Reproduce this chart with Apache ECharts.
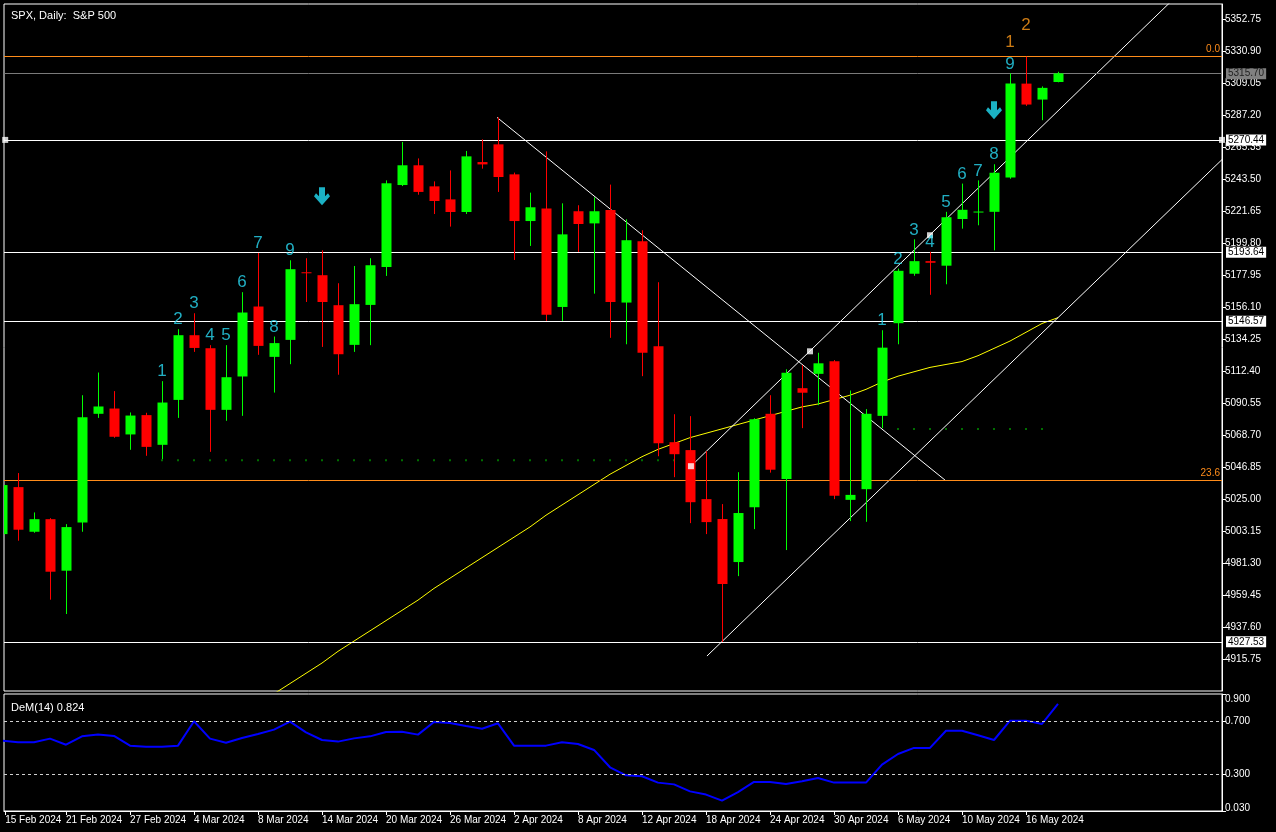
<!DOCTYPE html>
<html><head><meta charset="utf-8">
<script src="https://cdn.jsdelivr.net/npm/echarts@6/dist/echarts.min.js"></script>
<style>html,body{margin:0;padding:0;background:#000}#c{width:1276px;height:832px}</style>
</head><body><div id="c"></div>
<script>
const dates=['15 Feb 2024','16 Feb 2024','19 Feb 2024','20 Feb 2024','21 Feb 2024','22 Feb 2024','23 Feb 2024','26 Feb 2024','27 Feb 2024','28 Feb 2024','29 Feb 2024',
'1 Mar 2024','4 Mar 2024','5 Mar 2024','6 Mar 2024','7 Mar 2024','8 Mar 2024','11 Mar 2024','12 Mar 2024','13 Mar 2024','14 Mar 2024','15 Mar 2024','18 Mar 2024','19 Mar 2024','20 Mar 2024','21 Mar 2024','22 Mar 2024','25 Mar 2024','26 Mar 2024','27 Mar 2024','28 Mar 2024',
'1 Apr 2024','2 Apr 2024','3 Apr 2024','4 Apr 2024','5 Apr 2024','8 Apr 2024','9 Apr 2024','10 Apr 2024','11 Apr 2024','12 Apr 2024','15 Apr 2024','16 Apr 2024','17 Apr 2024','18 Apr 2024','19 Apr 2024','22 Apr 2024','23 Apr 2024','24 Apr 2024','25 Apr 2024','26 Apr 2024','29 Apr 2024','30 Apr 2024',
'1 May 2024','2 May 2024','3 May 2024','6 May 2024','7 May 2024','8 May 2024','9 May 2024','10 May 2024','13 May 2024','14 May 2024','15 May 2024','16 May 2024','17 May 2024','20 May 2024'];
const opens=[5001.1,5033.2,5002.7,5011.3,4976.1,5009.1,5083.3,5086.9,5069.2,5082.4,5062.1,5092.8,5137.0,5128.1,5086.0,5108.8,5156.6,5122.2,5133.8,5180.0,5178.0,5157.5,5130.4,5157.7,5183.6,5239.6,5253.1,5238.7,5229.8,5221.2,5255.3,5267.4,5246.9,5215.0,5223.5,5156.3,5221.7,5213.4,5222.6,5159.3,5201.2,5129.5,5063.9,5058.5,5025.0,5011.4,4982.0,5019.5,5083.3,5038.7,5100.8,5110.6,5119.2,5024.5,5031.8,5081.9,5145.2,5179.0,5187.6,5184.5,5216.4,5220.9,5221.3,5244.8,5308.9,5298.0,5310.0];
const highs=[5036,5042.8,5015.9,5012,5007.9,5096.0,5111.5,5098.8,5084.2,5084,5105.6,5141.1,5152.0,5130.2,5130.2,5166.4,5193.2,5136.1,5188.2,5189.6,5195.0,5172.5,5184.3,5189.6,5242.8,5269.0,5257.8,5242.1,5249.6,5262.9,5270.8,5285.8,5248.1,5234.4,5262.6,5227.1,5225.8,5231.2,5239.9,5216.2,5208.7,5173.2,5083.0,5081.7,5057.8,5021.6,5043.4,5080.3,5096.0,5113.7,5116.5,5125.0,5120.0,5099.2,5086.5,5140.4,5182.5,5202.5,5194.0,5221.3,5240.6,5242.8,5253.8,5315.9,5327.3,5307.0,5317.0];
const lows=[4998,4996.6,5002,4956.3,4946.5,5002.7,5080.5,5066.9,5058.7,5054.6,5052.3,5080.5,5125.6,5057.3,5078.5,5081.9,5123.6,5097.8,5117.2,5159.7,5129.0,5110.0,5125.6,5130.2,5177.5,5238.9,5233.0,5219.8,5211.2,5219.8,5250.8,5234.9,5188.4,5198.0,5146.8,5146.8,5193.9,5165.4,5135.2,5130.8,5109.0,5054.3,5040.0,5008.6,5001.1,4927.4,4972.4,5004.5,5043.1,4990.2,5073.5,5089.2,5025.0,5010.0,5009.5,5073.5,5130.8,5177.6,5164.6,5171.8,5209.8,5212.1,5195.0,5243.9,5293.7,5283.9,5309.8];
const closes=[5034.6,5004.1,5011.3,4975.4,5005.9,5081.0,5088.3,5067.6,5082.1,5060.7,5091.0,5137.0,5128.3,5086.0,5108.3,5152.5,5129.7,5131.6,5182.1,5179.5,5159.7,5124.0,5158.2,5184.8,5240.8,5253.1,5234.9,5228.7,5221.2,5259.2,5253.7,5245.1,5215.0,5224.4,5150.9,5205.9,5213.0,5221.7,5159.7,5201.9,5125.0,5063.2,5055.7,5022.9,5009.3,4967.0,5015.5,5079.6,5045.1,5111.4,5097.7,5117.8,5027.3,5027.9,5083.3,5128.5,5181.0,5187.6,5186.5,5217.6,5222.7,5221.5,5248.0,5308.9,5294.6,5306.0,5315.9];
const ma=[null,null,null,null,null,null,null,null,null,null,null,null,null,null,null,null,
4885,4892,4899,4906,4913,4921,4928,4935,4942,4949,4956,4964,4971,4978,4985,4992,4999,5006,5014,5021,5028,5035,5042,5048,5054,5059,5063,5067,5070,5073,5076,5079,5082,5085,5088,5090,5093,5096,5100,5105,5109,5112,5115,5117,5119,5123,5128,5133,5139,5145,5149];
const dem=[0.553,0.541,0.541,0.568,0.523,0.585,0.598,0.588,0.516,0.508,0.508,0.516,0.697,0.568,0.538,0.573,0.603,0.635,0.694,0.615,0.558,0.546,0.570,0.585,0.618,0.620,0.598,0.692,0.684,0.662,0.642,0.682,0.516,0.516,0.516,0.541,0.528,0.484,0.355,0.295,0.288,0.241,0.228,0.176,0.152,0.107,0.171,0.246,0.246,0.231,0.251,0.276,0.241,0.241,0.241,0.375,0.454,0.499,0.499,0.627,0.627,0.593,0.558,0.702,0.702,0.677,0.826];
const levels=[5270.44,5193.64,5146.57,4927.53];
const lastPrice=5315.70;
const fibLevels=[[5327.3,'0.0'],[5037.96,'23.6']];
const tdBars=[10,11,12,13,14,15,16,17,18,55,56,57,58,59,60,61,62,63];
const tdText=['1','2','3','4','5','6','7','8','9','1','2','3','4','5','6','7','8','9'];
const orangeBars=[63,64], orangeText=['1','2'];
const arrowBars=[20,62];
const dotRows=[[10,42,5051.6],[56,65,5072.9]];
const trendLines=[[[30.94,5285.8],[58.94,5038.0]],[[43.06,5047.5],[73.06,5365.0]],[[44.06,4917.8],[76.25,5257.0]]];
const anchors=[[43.06,5047.5],[50.5,5126.0],[58,5205.3],[0.2,5270.44],[76.25,5270.44]];
const demLevels=[0.7,0.3];

const FONT='Liberation Sans';
const XMIN=0.125, XMAX=76.25;
const candleData=dates.map((d,i)=>[i,opens[i],closes[i],lows[i],highs[i]]);
const dotData=[];dotRows.forEach(r=>{for(let i=r[0];i<=r[1];i++)dotData.push([i,r[2]]);});
const series=[
 {type:'custom',xAxisIndex:0,yAxisIndex:0,data:candleData,encode:{x:0,y:[1,2,3,4]},clip:true,z:5,
  renderItem:function(p,api){const i=api.value(0),o=api.value(1),c=api.value(2),l=api.value(3),h=api.value(4);
   const po=api.coord([i,o]),pc=api.coord([i,c]),pl=api.coord([i,l]),ph=api.coord([i,h]);
   const col=c>=o?'#00ff00':'#ff0000';const x=Math.round(po[0])+0.5;const w=10;
   const top=Math.min(po[1],pc[1]);const bh=Math.max(Math.abs(po[1]-pc[1]),1);
   return {type:'group',children:[
    {type:'line',shape:{x1:x,y1:ph[1],x2:x,y2:pl[1]},style:{stroke:col,lineWidth:1}},
    {type:'rect',shape:{x:x-w/2,y:top,width:w,height:bh},style:{fill:col}}]};}},
 {type:'line',xAxisIndex:0,yAxisIndex:0,data:ma.map((v,i)=>[i,v]),showSymbol:false,lineStyle:{color:'#ffff00',width:1},z:3,silent:true,
  markLine:{silent:true,symbol:'none',animation:false,data:[
   ...levels.map(v=>({yAxis:v,lineStyle:{color:'#ffffff',width:1,type:'solid'},label:{show:true,position:'end',distance:4,formatter:v.toFixed(2),backgroundColor:'#ffffff',color:'#000',padding:[1,2,0,2],fontSize:10,fontFamily:FONT}})),
   {yAxis:lastPrice,lineStyle:{color:'#7a7a7a',width:1,type:'solid'},label:{show:true,position:'end',distance:4,formatter:lastPrice.toFixed(2),backgroundColor:'#808080',color:'#222',padding:[1,2,0,2],fontSize:10,fontFamily:FONT}},
   ...fibLevels.map(f=>({yAxis:f[0],lineStyle:{color:'#ff8c1a',width:1,type:'solid'},label:{show:true,position:'insideEndTop',distance:[2,2],formatter:f[1],color:'#ff8c1a',fontSize:10,fontFamily:FONT}}))]}},
 ...trendLines.map(t=>({type:'line',xAxisIndex:0,yAxisIndex:0,data:t,showSymbol:false,lineStyle:{color:'#ffffff',width:1},z:4,silent:true})),
 {type:'scatter',xAxisIndex:0,yAxisIndex:0,data:dotData,symbol:'rect',symbolSize:2,itemStyle:{color:'#008a00'},z:2,silent:true},
 {type:'scatter',xAxisIndex:0,yAxisIndex:0,data:anchors,symbol:'rect',symbolSize:6,itemStyle:{color:'#ffffff'},z:6,silent:true},
 {type:'scatter',xAxisIndex:0,yAxisIndex:0,data:tdBars.map((b,k)=>({value:[b,highs[b]],label:{formatter:tdText[k]}})),symbolSize:0,z:7,silent:true,
  label:{show:true,position:'top',distance:1,color:'#29d9f2',fontSize:17,fontFamily:FONT}},
 {type:'scatter',xAxisIndex:0,yAxisIndex:0,data:orangeBars.map((b,k)=>({value:[b,highs[b]],label:{formatter:orangeText[k]}})),symbolSize:0,z:7,silent:true,
  label:{show:true,position:'top',distance:23,color:'#ff9a1a',fontSize:17,fontFamily:FONT}},
 {type:'scatter',xAxisIndex:0,yAxisIndex:0,data:arrowBars.map(b=>[b,highs[b]]),symbol:'path://M5,0 L11,0 L11,9 L14,6 L16,9 L8,18 L0,9 L2,6 L5,9 Z',symbolSize:[16,18],symbolOffset:[0,-54],itemStyle:{color:'#22ddf5'},z:7,silent:true},
 {type:'line',xAxisIndex:1,yAxisIndex:1,data:dem.map((v,i)=>[i,v]),showSymbol:false,lineStyle:{color:'#0000ff',width:2},silent:true,
  markLine:{silent:true,symbol:'none',animation:false,label:{show:false},lineStyle:{color:'#d0d0d0',width:1,type:[3,3]},data:demLevels.map(v=>({yAxis:v}))}}
];
const ticksX=[];for(let i=0;i<dates.length;i+=4)ticksX.push(i);
const option={backgroundColor:'#000',animation:false,
 title:[{text:'SPX, Daily:  S&P 500',left:6,top:5,textStyle:{color:'#fff',fontSize:11,fontWeight:'normal',fontFamily:FONT}},
        {text:'DeM(14) 0.824',left:6,top:697,textStyle:{color:'#fff',fontSize:11,fontWeight:'normal',fontFamily:FONT}}],
 grid:[{left:4,top:4,right:54,height:687,show:true,borderColor:'#fff',borderWidth:1,backgroundColor:'#000'},
       {left:4,top:694,right:54,height:117,show:true,borderColor:'#fff',borderWidth:1,backgroundColor:'#000'}],
 xAxis:[{type:'value',gridIndex:0,min:XMIN,max:XMAX,axisLabel:{show:false},axisTick:{show:false},axisLine:{show:false},splitLine:{show:false}},
        {type:'value',gridIndex:1,min:XMIN,max:XMAX,axisLine:{show:true,lineStyle:{color:'#fff'}},splitLine:{show:false},
         axisTick:{show:true,customValues:ticksX.map(v=>v===0?0.2:v),length:4,lineStyle:{color:'#fff'}},
         axisLabel:{customValues:ticksX.map(v=>v===0?0.2:v),formatter:v=>dates[Math.round(v)]||'',color:'#fff',fontSize:10,fontFamily:FONT,align:'left',margin:4}}],
 yAxis:[{type:'value',gridIndex:0,position:'right',min:4893.9,max:5363.3,interval:21.85,splitLine:{show:false},
         axisLine:{show:true,lineStyle:{color:'#fff'}},axisTick:{show:true,length:4,lineStyle:{color:'#fff'}},
         axisLabel:{color:'#fff',fontSize:10,fontFamily:FONT,margin:3,showMinLabel:false,showMaxLabel:false,formatter:v=>v.toFixed(2)}},
        {type:'value',gridIndex:1,position:'right',min:0.03,max:0.9,splitLine:{show:false},
         axisLine:{show:true,lineStyle:{color:'#fff'}},axisTick:{show:true,length:4,customValues:[0.03,0.3,0.7,0.9],lineStyle:{color:'#fff'}},
         axisLabel:{customValues:[0.05,0.3,0.7,0.86],color:'#fff',fontSize:10,fontFamily:FONT,margin:3,formatter:v=>({0.05:'0.030',0.3:'0.300',0.7:'0.700',0.86:'0.900'})[v]}}],
 series:series};
echarts.init(document.getElementById('c')).setOption(option);
</script></body></html>
